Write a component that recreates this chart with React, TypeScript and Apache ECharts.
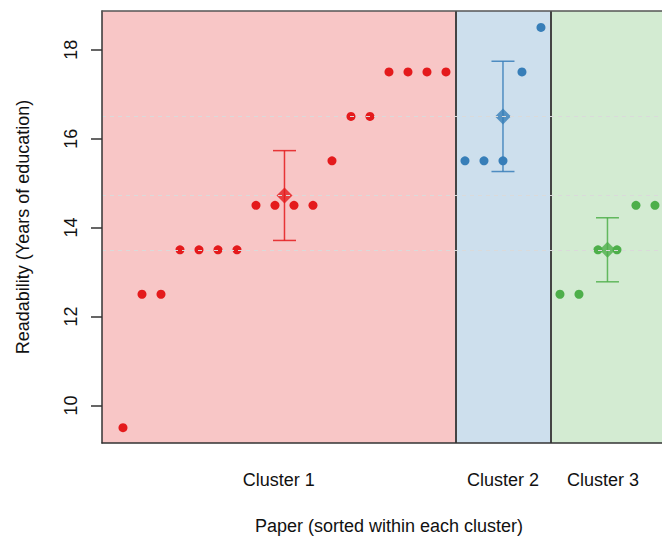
import React, { useEffect, useRef } from "react";
import * as echarts from "echarts";

const cluster1Values = [9.5, 12.5, 12.5, 13.5, 13.5, 13.5, 13.5, 14.5, 14.5, 14.5, 14.5, 15.5, 16.5, 16.5, 17.5, 17.5, 17.5, 17.5];
const cluster2Values = [15.5, 15.5, 15.5, 17.5, 18.5];
const cluster3Values = [12.5, 12.5, 13.5, 13.5, 14.5, 14.5];
const clusterNames = ["Cluster 1", "Cluster 2", "Cluster 3"];
const clusterMeans = [14.72, 16.5, 13.5];
const ciLower = [13.71, 15.26, 12.78];
const ciUpper = [15.73, 17.74, 14.22];
const clusterLabelPos = [8.2, 20, 25.26];
const yTicks = [10, 12, 14, 16, 18];

const colors = ["#E41A1C", "#377EB8", "#4DAF4A"];
const bgColors = ["#F8C6C6", "#CDDFED", "#D3EBD2"];
const FONT = '"Liberation Sans", Arial, sans-serif';
const X_MIN = -1.105;
const X_MAX = 28.37;
const Y_MIN = 9.155;
const Y_MAX = 18.87;

export default function App() {
  const ref = useRef<HTMLDivElement>(null);
  useEffect(() => {
    document.body.style.margin = "0";
    const chart = echarts.init(ref.current!, undefined, { renderer: "svg", width: 662, height: 540 });
    const clusters = [cluster1Values, cluster2Values, cluster3Values];
    const offsets: number[] = [];
    let acc = 0;
    clusters.forEach((c) => {
      offsets.push(acc);
      acc += c.length;
    });
    const boundaries = offsets.slice(1).map((o) => o - 0.5);
    const regionStarts = [X_MIN, ...boundaries];
    const regionEnds = [...boundaries, X_MAX];
    const meanPos = clusters.map((c, k) => offsets[k] + (c.length - 1) / 2);

    const pointSeries = clusters.map((c, k) => ({
      type: "scatter",
      name: clusterNames[k],
      z: 3,
      symbol: "circle",
      symbolSize: 9,
      itemStyle: { color: colors[k], opacity: 1 },
      data: c.map((v, j) => [offsets[k] + j, v]),
    }));

    const option: any = {
      animation: false,
      backgroundColor: "#ffffff",
      grid: { left: 102, top: 11, right: 0, bottom: 92, containLabel: false },
      xAxis: [
        {
          type: "value",
          min: X_MIN,
          max: X_MAX,
          z: 10,
          splitLine: { show: false },
          axisTick: { show: false },
          axisLine: { show: true, onZero: false, lineStyle: { color: "#333", width: 1.5 } },
          axisLabel: {
            customValues: clusterLabelPos,
            formatter: (v: number) => {
              const i = clusterLabelPos.findIndex((p) => Math.abs(p - v) < 1e-6);
              return i >= 0 ? clusterNames[i] : "";
            },
            margin: 28,
            fontSize: 18,
            color: "#111",
            fontFamily: FONT,
          },
          name: "Paper (sorted within each cluster)",
          nameLocation: "middle",
          nameGap: 74,
          nameTextStyle: { fontSize: 18, color: "#111", fontFamily: FONT, padding: [0, 0, 0, 14] },
        },
        {
          type: "value",
          position: "top",
          min: X_MIN,
          max: X_MAX,
          z: 10,
          splitLine: { show: false },
          axisTick: { show: false },
          axisLabel: { show: false },
          axisLine: { show: true, onZero: false, lineStyle: { color: "#555", width: 1.5 } },
        },
      ],
      yAxis: {
        type: "value",
        min: Y_MIN,
        max: Y_MAX,
        z: 10,
        splitLine: { show: false },
        axisLine: { show: true, onZero: false, lineStyle: { color: "#333", width: 1.5 } },
        axisTick: { show: true, length: 11, customValues: yTicks, lineStyle: { color: "#333", width: 1.5 } },
        axisLabel: {
          customValues: yTicks,
          rotate: 90,
          margin: 22,
          fontSize: 18,
          color: "#111",
          fontFamily: FONT,
        },
        name: "Readability (Years of education)",
        nameLocation: "middle",
        nameRotate: 90,
        nameGap: 70,
        nameTextStyle: { fontSize: 18, color: "#111", fontFamily: FONT },
      },
      series: [
        {
          type: "scatter",
          name: "bg",
          z: 1,
          data: [],
          silent: true,
          markArea: {
            silent: true,
            z: 1,
            data: clusters.map((_, k) => [
              { xAxis: regionStarts[k], itemStyle: { color: bgColors[k], opacity: 1 } },
              { xAxis: regionEnds[k] },
            ]),
          },
          markLine: {
            silent: true,
            symbol: "none",
            z: 6,
            label: { show: false },
            lineStyle: { color: "#444", width: 2, type: "solid" },
            data: boundaries.map((b) => ({ xAxis: b })),
          },
        },
        ...pointSeries,
        {
          type: "custom",
          name: "ci",
          z: 4,
          data: clusters.map((_, k) => [meanPos[k], ciLower[k], ciUpper[k]]),
          renderItem: (params: any, api: any) => {
            const x = api.value(0);
            const pLo = api.coord([x, api.value(1)]);
            const pHi = api.coord([x, api.value(2)]);
            const half = 11.5;
            const style = { stroke: colors[params.dataIndex], lineWidth: 1.5, opacity: 0.85 };
            return {
              type: "group",
              children: [
                { type: "line", shape: { x1: pLo[0], y1: pLo[1], x2: pHi[0], y2: pHi[1] }, style },
                { type: "line", shape: { x1: pLo[0] - half, y1: pLo[1], x2: pLo[0] + half, y2: pLo[1] }, style },
                { type: "line", shape: { x1: pHi[0] - half, y1: pHi[1], x2: pHi[0] + half, y2: pHi[1] }, style },
              ],
            };
          },
        },
        {
          type: "scatter",
          name: "means",
          z: 5,
          symbol: "diamond",
          symbolSize: 16,
          data: clusters.map((_, k) => ({
            value: [meanPos[k], clusterMeans[k]],
            itemStyle: { color: colors[k] },
          })),
          markLine: {
            silent: true,
            symbol: "none",
            z: 7,
            label: { show: false },
            lineStyle: { color: "#dadada", width: 1, type: [4, 4] },
            data: clusterMeans.map((m) => ({ yAxis: m })),
          },
        },
      ],
    };
    chart.setOption(option);
    return () => chart.dispose();
  }, []);
  return <div ref={ref} style={{ position: "absolute", left: 0, top: 0, width: 662, height: 540 }} />;
}
